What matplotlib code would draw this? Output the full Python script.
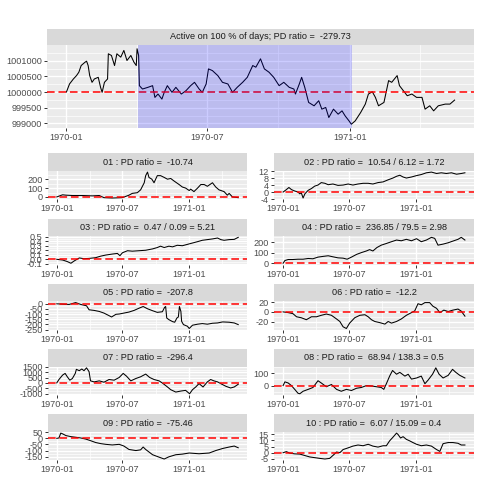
import matplotlib
matplotlib.use('Agg')
import matplotlib.pyplot as plt
from matplotlib.ticker import FixedLocator

plt.rcParams['font.family'] = ['Liberation Sans', 'DejaVu Sans']

W = H = 480.0

# x axis is days since 1970-01-01
date_ticks = [0, 181, 365]
date_labels = ['1970-01', '1970-07', '1971-01']
date_minor = [90.5, 273, 455.5]

# shaded "active" window of the top panel
active_from, active_to = 92, 368

top_title = 'Active on 100 % of days; PD ratio =  -279.73'
top_days = [0, 4, 9, 13, 16, 19, 24, 26, 28, 30, 33, 36, 41, 44, 46, 49, 53, 54, 58, 62,
            65, 70, 74, 78, 83, 87, 90, 91, 93, 94, 98, 105, 111, 114, 118, 123, 126, 130, 136, 141,
            148, 154, 160, 165, 171, 175, 180, 183, 188, 195, 201, 208, 214, 220, 227, 233, 240, 244, 250, 255,
            261, 267, 274, 280, 287, 293, 295, 300, 303, 307, 312, 319, 325, 329, 334, 338, 344, 350, 355, 359,
            364, 367, 372, 379, 385, 389, 394, 398, 402, 409, 415, 419, 426, 429, 434, 439, 445, 451, 458, 462,
            468, 473, 479, 488, 494, 500]
top_vals = [1000000, 1000257, 1000417, 1000524, 1000631, 1000845, 1000952, 1000984, 1000845, 1000524,
            1000310, 1000417, 1000470, 1000150, 999990, 1000310, 1000417, 1001220, 1001166, 1000845,
            1001220, 1001113, 1001327, 1001006, 1001166, 1000952, 1000845, 1001380, 1001166, 1000203,
            1000096, 1000150, 1000203, 999829, 999936, 999775, 999990, 1000203, 999990, 1000150,
            999936, 1000043, 1000203, 1000310, 1000096, 999990, 1000257, 1000738, 1000685, 1000524,
            1000310, 1000257, 999990, 1000150, 1000310, 1000470, 1000845, 1000792, 1001059, 1000738,
            1000631, 1000470, 1000203, 1000310, 1000150, 1000096, 999936, 1000257, 1000470, 1000150,
            999668, 999561, 999722, 999454, 999508, 999187, 999454, 999294, 999400, 999240,
            999080, 998973, 999080, 999347, 999615, 999936, 1000010, 999829, 999561, 999668,
            1000364, 1000310, 1000524, 1000203, 1000043, 999882, 999936, 999829, 999829, 999454,
            999561, 999400, 999561, 999615, 999615, 999743]
top_ticks = [999000, 999500, 1000000, 1000500, 1001000]

titles = ['01 : PD ratio =  -10.74',
          '02 : PD ratio =  10.54 / 6.12 = 1.72',
          '03 : PD ratio =  0.47 / 0.09 = 5.21',
          '04 : PD ratio =  236.85 / 79.5 = 2.98',
          '05 : PD ratio =  -207.8',
          '06 : PD ratio =  -12.2',
          '07 : PD ratio =  -296.4',
          '08 : PD ratio =  68.94 / 138.3 = 0.5',
          '09 : PD ratio =  -75.46',
          '10 : PD ratio =  6.07 / 15.09 = 0.4']

d01 = [0, 16, 25, 43, 71, 98, 117, 130, 153, 181, 199, 208, 222, 231, 241, 245, 250, 254, 262, 268,
       277, 286, 296, 305, 314, 323, 337, 346, 355, 365, 369, 378, 388, 397, 406, 415, 429, 438, 447, 461,
       470, 475, 484, 500]
v01 = [0, 24, 20, 16, 16, 12, 16, -8, -12, -8, 20, 40, 48, 80, 160, 240, 280, 220, 200, 160,
       240, 240, 220, 200, 208, 180, 140, 112, 100, 72, 88, 60, 100, 140, 140, 120, 160, 112, 80, 60,
       20, 40, 0, -8]

d02 = [0, 9, 16, 23, 32, 41, 46, 50, 55, 60, 69, 78, 87, 96, 105, 115, 124, 137, 151, 165,
       179, 192, 206, 220, 234, 247, 261, 275, 289, 302, 312, 321, 330, 339, 353, 367, 380, 394, 408, 422,
       435, 449, 463, 477, 490, 500]
v02 = [0, 1.4, 2.6, 1.4, 0.6, 0, -1, -0.4, -3.4, -1, 1, 2, 3.4, 4, 5.4, 5, 4.2, 4.6, 3.8, 4,
       4.6, 4, 4.6, 5, 5, 4.6, 5.4, 5.8, 7, 8, 9, 9.6, 8.6, 8, 8.6, 9.4, 10, 11, 11.4, 10.6,
       11, 10.6, 11, 10.2, 10.6, 11]

d03 = [0, 16, 29, 39, 48, 62, 75, 89, 107, 121, 135, 153, 167, 174, 181, 195, 208, 227, 245, 264,
       277, 286, 296, 309, 319, 332, 346, 360, 374, 388, 401, 415, 429, 443, 452, 461, 475, 489, 500]
v03 = [0, -0.015, -0.05, -0.087, -0.036, 0.03, 0.014, 0.02, 0.036, 0.07, 0.094, 0.116, 0.13, 0.08, 0.145,
       0.19, 0.18, 0.19, 0.2, 0.23, 0.26, 0.29, 0.26, 0.29, 0.275, 0.31, 0.30, 0.33, 0.36, 0.39,
       0.42, 0.435, 0.45, 0.47, 0.435, 0.42, 0.435, 0.44, 0.485]

d04 = [0, 5, 14, 27, 41, 55, 69, 82, 96, 110, 124, 137, 151, 165, 176, 188, 202, 215, 229, 238,
       247, 258, 270, 284, 298, 312, 325, 339, 353, 367, 380, 394, 408, 417, 426, 440, 454, 467, 481, 490, 500]
v04 = [0, 26, 36, 36, 39, 39, 46, 43, 59, 66, 72, 62, 52, 49, 39, 59, 85, 102, 118, 131,
       118, 151, 174, 190, 207, 223, 216, 230, 216, 236, 207, 223, 249, 239, 174, 184, 197, 213, 230, 249, 223]

d05 = [0, 16, 34, 52, 66, 82, 89, 103, 117, 130, 144, 151, 163, 172, 185, 199, 213, 227, 238, 250,
       264, 277, 291, 297, 300, 303, 309, 319, 325, 331, 335, 338, 342, 344, 349, 360, 365, 374, 388, 401,
       415, 429, 443, 457, 475, 489, 500]
v05 = [0, -3, -6, 12, -6, -19, -58, -64, -74, -90, -115, -128, -102, -99, -90, -80, -64, -42, -26, -48,
       -67, -83, -77, -35, -26, -138, -154, -173, -179, -138, -128, -26, -74, -170, -202, -218, -240, -208, -198, -192,
       -198, -189, -186, -176, -179, -186, -202]

d06 = [0, 14, 27, 37, 50, 64, 78, 92, 105, 119, 133, 147, 156, 165, 174, 183, 197, 211, 225, 234,
       243, 252, 266, 280, 289, 298, 312, 325, 339, 353, 362, 371, 380, 390, 403, 412, 422, 431, 442, 454,
       467, 481, 490, 500]
v06 = [0, -1.5, -3.6, -10, -12, -16, -10, -10, -7, -4.4, -7, -14.5, -19.6, -30.5, -34, -23, -12, -7, -5.8, -10,
       -16, -19.6, -22, -25, -19.6, -23, -19.6, -14.5, -7, -1.5, 2, 16.7, 14.5, 19, 19, 11.6, 7.3, -1.5, 3.6, 0.7,
       3.6, 5.8, 1.5, -8.7]

d07 = [0, 6, 16, 23, 29, 36, 43, 51, 54, 62, 69, 75, 82, 89, 93, 103, 117, 130, 144, 158,
       172, 183, 192, 204, 218, 231, 245, 256, 268, 282, 293, 305, 314, 328, 342, 355, 366, 374, 383, 392,
       403, 415, 424, 433, 443, 455, 466, 479, 489, 500]
v07 = [0, 320, 736, 896, 576, 256, 416, 896, 1280, 1152, 1312, 1152, 1420, 1056, 192, 96, 192, 64, 320, 256,
       512, 896, 640, 192, 416, 576, 832, 512, 320, 192, -64, -384, -640, -864, -768, -704, -1024, -640, -384, -64,
       -384, 96, 320, 192, 96, -128, -320, -480, -384, -128]

d08 = [0, 5, 14, 23, 32, 41, 46, 55, 69, 82, 96, 105, 119, 133, 147, 160, 174, 188, 202, 215,
       229, 243, 257, 270, 277, 284, 293, 301, 312, 321, 335, 344, 353, 367, 380, 390, 399, 411, 420, 429,
       440, 454, 466, 475, 486, 500]
v08 = [0, 30, 21, 0, -30, -61, -65, -45, -30, -15, 39, 21, -9, 9, -30, -45, -30, -39, -21, -15,
       0, -3, -9, -15, -30, 15, 76, 121, 91, 106, 76, 91, 52, 61, 76, 15, 45, 91, 142, 91,
       61, 82, 130, 106, 82, 61]

d09 = [0, 6, 11, 16, 25, 39, 52, 66, 80, 94, 107, 121, 135, 153, 172, 185, 199, 218, 231, 238,
       245, 264, 282, 296, 309, 328, 346, 365, 392, 420, 438, 457, 475, 489, 500]
v09 = [0, 3, 43, 37, 23, 14, 9, 3, -6, -20, -34, -43, -49, -54, -49, -63, -91, -100, -94, -71,
       -91, -134, -154, -169, -151, -134, -129, -120, -126, -120, -100, -83, -71, -63, -77]

d10 = [0, 9, 18, 32, 46, 60, 73, 87, 101, 115, 128, 139, 147, 156, 165, 179, 192, 206, 220, 234,
       247, 261, 275, 284, 293, 302, 312, 316, 323, 330, 339, 348, 357, 367, 380, 394, 408, 422, 431, 440,
       454, 467, 481, 490, 500]
v10 = [0, 0.9, -0.3, -0.9, -1.1, -2.3, -3.4, -4, -4.6, -5.1, -4.6, -1.7, 0.6, 0, 2.6, 4, 5.4, 6.3, 5.7, 6.9,
       5.4, 4.6, 5.7, 5.7, 9.7, 12.6, 16, 14.9, 12, 13.1, 10.9, 9.7, 8.3, 6.9, 5.7, 6.3, 5.4, 2.6, 1.1, 7.4,
       8.3, 8.3, 7.7, 6.3, 6.3]

series_days = [d01, d02, d03, d04, d05, d06, d07, d08, d09, d10]
series_vals = [v01, v02, v03, v04, v05, v06, v07, v08, v09, v10]
series_ticks = [[0, 100, 200],
                [-4, 0, 4, 8, 12],
                [-0.1, 0.0, 0.1, 0.2, 0.3, 0.4, 0.5],
                [0, 100, 200],
                [-250, -200, -150, -100, -50, 0],
                [-20, 0, 20],
                [-1000, -500, 0, 500, 1000, 1500],
                [0, 100],
                [-150, -100, -50, 0, 50],
                [-5, 0, 5, 10, 15]]
series_fmt = ['{:.0f}', '{:.0f}', '{:.1f}', '{:.0f}', '{:.0f}',
              '{:.0f}', '{:.0f}', '{:.0f}', '{:.0f}', '{:.0f}']


def px_axes(fig, x0, y0, x1, y1):
    return fig.add_axes([x0 / W, 1 - y1 / H, (x1 - x0) / W, (y1 - y0) / H])


def strip(fig, x0, y0, x1, y1, label):
    s = px_axes(fig, x0, y0, x1, y1)
    s.set_facecolor('#D9D9D9')
    s.set_xticks([])
    s.set_yticks([])
    for sp in s.spines.values():
        sp.set_visible(False)
    s.text(0.5, 0.5, label, ha='center', va='center', fontsize=6.6,
           color='#1A1A1A', transform=s.transAxes)


def panel(fig, x0, y0, x1, y1, days, vals, yticks, fmt, ref=0):
    ax = px_axes(fig, x0, y0, x1, y1)
    ax.set_facecolor('#EBEBEB')
    for sp in ax.spines.values():
        sp.set_visible(False)
    ax.plot(days, vals, color='black', lw=0.75, zorder=2)
    ax.axhline(ref, color='#FF0000', lw=1.1, dashes=(5, 2.5), zorder=2.2)

    lo, hi = min(min(vals), ref), max(max(vals), ref)
    pad = (hi - lo) * 0.05
    xpad = (max(days) - min(days)) * 0.05

    ax.set_xticks(date_ticks)
    ax.set_xticklabels(date_labels)
    ax.xaxis.set_minor_locator(FixedLocator(date_minor))
    ax.set_yticks(yticks)
    ax.set_yticklabels([fmt.format(v) for v in yticks])
    step = yticks[1] - yticks[0]
    ymin = [yticks[0] - step / 2] + [t + step / 2 for t in yticks]
    ax.yaxis.set_minor_locator(FixedLocator(ymin))
    ax.set_xlim(min(days) - xpad, max(days) + xpad)
    ax.set_ylim(lo - pad, hi + pad)

    ax.set_axisbelow(True)
    ax.grid(which='major', color='white', lw=1.0)
    ax.grid(which='minor', color='white', lw=0.5)
    ax.tick_params(which='major', length=2, width=0.7, color='#333333', pad=1.6,
                   labelsize=6.6, labelcolor='#4D4D4D')
    ax.tick_params(which='minor', length=0)
    return ax


fig = plt.figure(figsize=(4.8, 4.8), dpi=100, facecolor='white')

# top panel
strip(fig, 47, 28.5, 474, 45, top_title)
ax = panel(fig, 47, 45, 474, 128, top_days, top_vals, top_ticks, '{:.0f}', ref=1000000)
ax.axvspan(active_from, active_to, color='blue', alpha=0.2, lw=0, zorder=3)

# ten small panels, two columns
cols = [(47.7, 247.3), (274, 474)]
for i in range(10):
    row, col = i // 2, i % 2
    st = 153.3 + 65.25 * row
    x0, x1 = cols[col]
    strip(fig, x0, st, x1, st + 17.5, titles[i])
    panel(fig, x0, st + 17.5, x1, st + 46, series_days[i], series_vals[i],
          series_ticks[i], series_fmt[i])

fig.savefig('out.png', dpi=100, facecolor='white')
